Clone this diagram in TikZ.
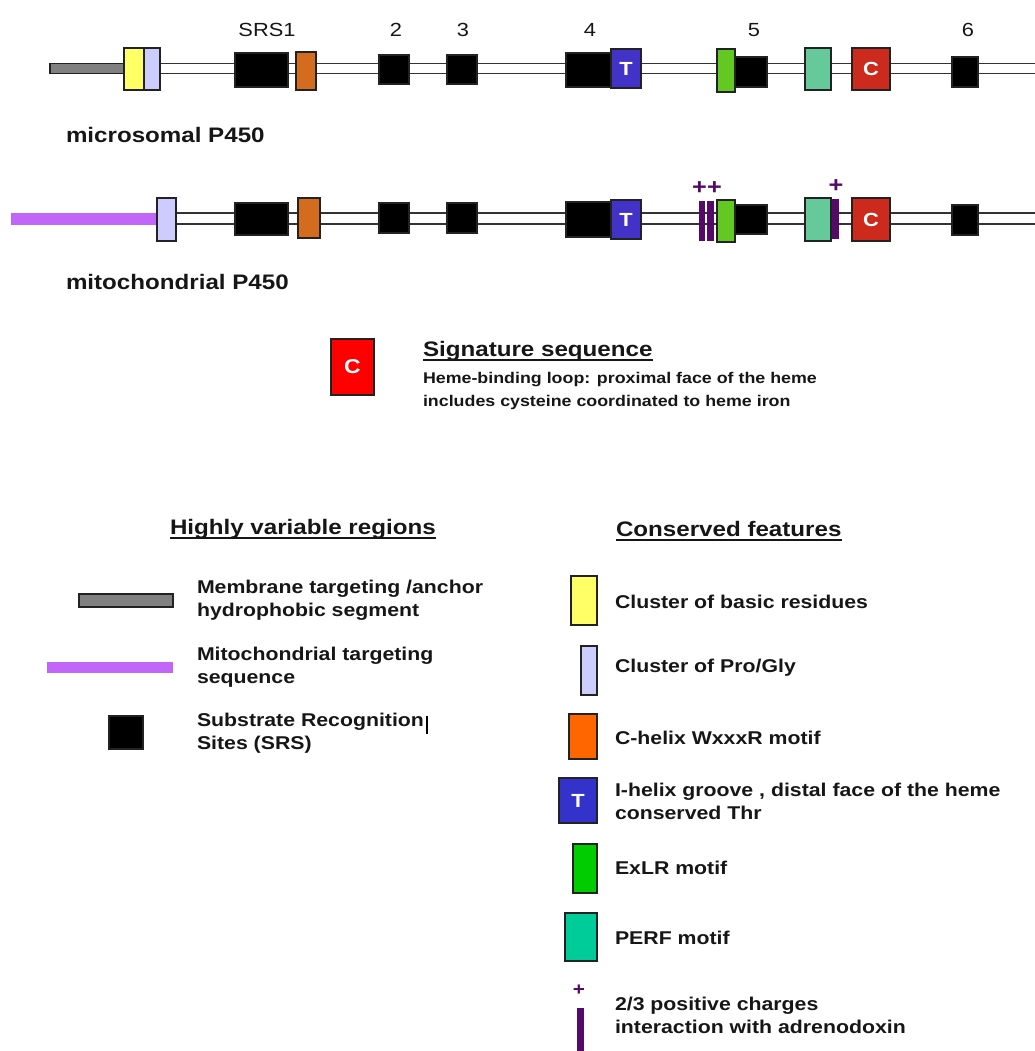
\documentclass[tikz,border=0pt]{standalone}
\usepackage{fontspec}
\setmainfont{Liberation Sans}[FakeStretch=1.15]
\usetikzlibrary{backgrounds}
\definecolor{boxline}{HTML}{222222}
\definecolor{seqline}{HTML}{333333}
\definecolor{txt}{HTML}{161616}
\definecolor{anchorgray}{HTML}{808080}
\definecolor{ylw}{HTML}{FFFF66}
\definecolor{lav}{HTML}{CCCCFF}
\definecolor{orgA}{HTML}{D46C20}
\definecolor{orgB}{HTML}{FF6600}
\definecolor{tblueA}{HTML}{4232C8}
\definecolor{tblueB}{HTML}{3333CC}
\definecolor{grnA}{HTML}{64C822}
\definecolor{grnB}{HTML}{00CC00}
\definecolor{tealA}{HTML}{66C99A}
\definecolor{tealB}{HTML}{00CC99}
\definecolor{redA}{HTML}{CC2A1C}
\definecolor{redB}{HTML}{FF0000}
\definecolor{mito}{HTML}{C266FA}
\definecolor{charge}{HTML}{550A6A}
\newcommand\fsz[2]{\fontsize{#1}{#2}\selectfont}
\begin{document}
\begin{tikzpicture}[x=1pt,y=-1pt,
  box/.style={draw=boxline, line width=1.4pt, inner sep=0pt, outer sep=0pt},
  flat/.style={draw=none, inner sep=0pt, outer sep=0pt},
  lbl/.style={inner sep=0pt, outer sep=0pt, anchor=west, text=txt, align=left, font=\bfseries\fsz{18.5}{23}},
  numlbl/.style={inner sep=0pt, text=txt, font=\fsz{19}{19}},
  rowlbl/.style={inner sep=0pt, outer sep=0pt, anchor=west, text=txt, font=\bfseries\fsz{21}{21}},
  head/.style={inner sep=0pt, outer sep=0pt, anchor=base west, text=txt, font=\bfseries\fsz{21}{21}},
  inletter/.style={text=white, font=\bfseries\fsz{19}{19}},
  plus/.style={inner sep=0pt, text=charge, font=\bfseries\fsz{22}{22}},
  seq/.style={draw=seqline, line width=1.8pt},
  srs/.style={box, fill=black}
]
\useasboundingbox (0,0) rectangle (1034,1051);

% ---------------- microsomal P450 ----------------
\node[box, fill=anchorgray, minimum width=74pt, minimum height=10pt] (a1) at (87,68.5) {};
\coordinate (e1) at (1040,68.5);
\node[box, fill=ylw, minimum width=20pt, minimum height=42pt] (y1) at (134,69) {};
\node[box, fill=lav, minimum width=16pt, minimum height=42pt] (p1) at (152,69) {};
\node[srs, minimum width=53pt, minimum height=34pt] (s11) at (261.5,70) {};
\node[box, fill=orgA, minimum width=20pt, minimum height=38pt] (o1) at (306,71) {};
\node[srs, minimum width=30pt, minimum height=29pt] (s21) at (394,69.5) {};
\node[srs, minimum width=30pt, minimum height=29pt] (s31) at (462,69.5) {};
\node[srs, minimum width=46pt, minimum height=34pt] (s41) at (589,70) {};
\node[box, fill=tblueA, minimum width=30pt, minimum height=39pt, inletter] (t1) at (626,68.5) {T};
\node[srs, minimum width=32pt, minimum height=30pt] (s51) at (751,72) {};
\node[box, fill=grnA, minimum width=18pt, minimum height=43pt] (g1) at (726,70.5) {};
\node[box, fill=tealA, minimum width=26pt, minimum height=42pt] (pf1) at (818,69) {};
\node[box, fill=redA, minimum width=38pt, minimum height=42pt, inletter] (c1) at (871,69) {C};
\node[srs, minimum width=26pt, minimum height=30pt] (s61) at (965,72) {};

\node[numlbl] (n1) at (267,30) {SRS1};
\node[numlbl] (n2) at (396,30) {2};
\node[numlbl] (n3) at (463,30) {3};
\node[numlbl] (n4) at (590,30) {4};
\node[numlbl] (n5) at (754,30) {5};
\node[numlbl] (n6) at (968,30) {6};
\node[rowlbl] (r1) at (66,135) {microsomal P450};

% ---------------- mitochondrial P450 ----------------
\node[flat, fill=mito, minimum width=146pt, minimum height=12pt] (m2) at (84,218.5) {};
\coordinate (e2) at (1040,218.5);
\node[box, fill=lav, minimum width=19pt, minimum height=43pt] (p2) at (166.5,219.5) {};
\node[srs, minimum width=53pt, minimum height=32pt] (s12) at (261.5,219) {};
\node[box, fill=orgA, minimum width=22pt, minimum height=40pt] (o2) at (309,218) {};
\node[srs, minimum width=30pt, minimum height=30pt] (s22) at (394,218) {};
\node[srs, minimum width=30pt, minimum height=30pt] (s32) at (462,218) {};
\node[srs, minimum width=46pt, minimum height=35pt] (s42) at (589,219.5) {};
\node[box, fill=tblueA, minimum width=30pt, minimum height=39pt, inletter] (t2) at (626,219.5) {T};
\node[flat, fill=charge, minimum width=6pt, minimum height=40pt] (q1) at (702,221) {};
\node[flat, fill=charge, minimum width=7pt, minimum height=40pt] (q2) at (710.5,221) {};
\node[plus] (pp) at (707,188) {++};
\node[srs, minimum width=32pt, minimum height=29pt] (s52) at (751,219.5) {};
\node[box, fill=grnA, minimum width=18pt, minimum height=42pt] (g2) at (726,221) {};
\node[box, fill=tealA, minimum width=26pt, minimum height=43pt] (pf2) at (818,219.5) {};
\node[flat, fill=charge, minimum width=7pt, minimum height=40pt] (q3) at (835.5,219) {};
\node[plus] (pq) at (836,186) {+};
\node[box, fill=redA, minimum width=38pt, minimum height=43pt, inletter] (c2) at (871,219.5) {C};
\node[srs, minimum width=26pt, minimum height=30pt] (s62) at (965,220) {};
\node[rowlbl] (r2) at (66,282) {mitochondrial P450};

% sequence backbones
\begin{pgfonlayer}{background}
  \draw[seq, double=white, double distance=8.2pt] (a1.east) -- (e1);
  \draw[seq, double=white, double distance=9.2pt] (m2.east) -- (e2);
\end{pgfonlayer}

% ---------------- signature ----------------
\node[box, fill=redB, minimum width=43pt, minimum height=56pt, text=white, font=\bfseries\fsz{20}{20}] (csig) at (352.5,367) {C};
\node[head] (sig) at (423,356.5) {Signature sequence};
\draw[txt, line width=1.2pt] ([yshift=-3.5pt]sig.base west) -- ([yshift=-3.5pt]sig.base east);
\node[lbl, font=\bfseries\fsz{15.5}{23}] (sigd) at (423,390.5) {Heme-binding loop: proximal face of the heme\\includes cysteine coordinated to heme iron};

% ---------------- legend: highly variable ----------------
\node[head] (hv) at (170,534.5) {Highly variable regions};
\draw[txt, line width=1.2pt] ([yshift=-3.5pt]hv.base west) -- ([yshift=-3.5pt]hv.base east);
\node[box, fill=anchorgray, minimum width=94pt, minimum height=13pt] (la) at (126,600.5) {};
\node[lbl] (lat) at (197,600) {Membrane targeting /anchor\\hydrophobic segment};
\node[flat, fill=mito, minimum width=126pt, minimum height=11pt] (lm) at (110,667.5) {};
\node[lbl] (lmt) at (197,667) {Mitochondrial targeting\\sequence};
\node[srs, minimum width=34pt, minimum height=33pt] (ls) at (126,732.5) {};
\node[lbl] (lst) at (197,733) {Substrate Recognition\\Sites (SRS)};
\draw[black, line width=1.2pt] (427,716) -- (427,734);

% ---------------- legend: conserved ----------------
\node[head] (cf) at (616,536.5) {Conserved features};
\draw[txt, line width=1.2pt] ([yshift=-3.5pt]cf.base west) -- ([yshift=-3.5pt]cf.base east);
\node[box, fill=ylw, minimum width=26pt, minimum height=49pt] (ky) at (584,600.5) {};
\node[lbl] (kyt) at (615,602) {Cluster of basic residues};
\node[box, fill=lav, minimum width=16pt, minimum height=49pt] (kp) at (589,670.5) {};
\node[lbl] (kpt) at (615,668) {Cluster of Pro/Gly};
\node[box, fill=orgB, minimum width=28pt, minimum height=45pt] (ko) at (583,736.5) {};
\node[lbl] (kot) at (615,738) {C-helix WxxxR motif};
\node[box, fill=tblueB, minimum width=38pt, minimum height=45pt, inletter] (kt) at (578,800.5) {T};
\node[lbl] (ktt) at (615,801) {I-helix groove , distal face of the heme\\conserved Thr};
\node[box, fill=grnB, minimum width=24pt, minimum height=49pt] (kg) at (585,868.5) {};
\node[lbl] (kgt) at (615,868) {ExLR motif};
\node[box, fill=tealB, minimum width=32pt, minimum height=48pt] (kf) at (581,937) {};
\node[lbl] (kft) at (615,938) {PERF motif};
\node[plus, font=\bfseries\fsz{18}{18}] (kq) at (579,990) {+};
\node[flat, fill=charge, minimum width=7pt, minimum height=44pt] (kc) at (580.5,1030) {};
\node[lbl] (kct) at (615,1015) {2/3 positive charges\\interaction with adrenodoxin};
\end{tikzpicture}
\end{document}
